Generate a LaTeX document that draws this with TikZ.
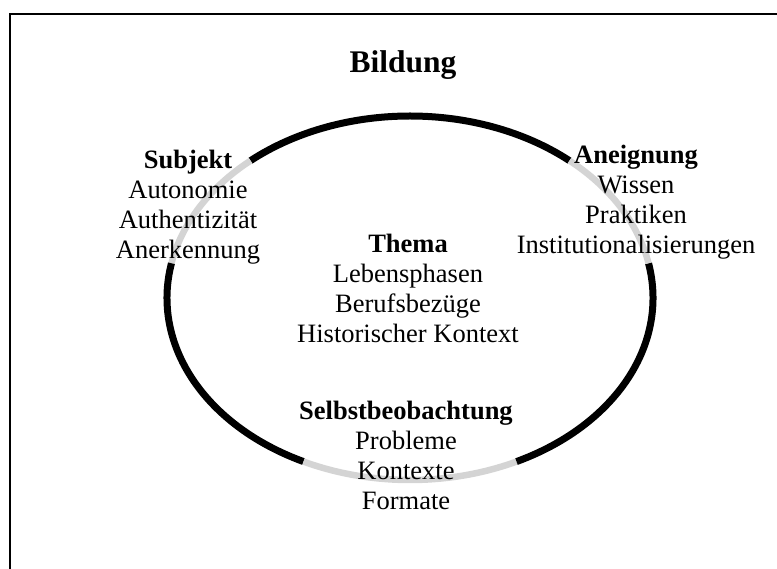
\documentclass[tikz,border=0pt]{standalone}
\usepackage{fontspec}
\setmainfont{Liberation Serif}
\usepackage{tikz}
\usetikzlibrary{calc}
\definecolor{bgrau}{HTML}{D4D4D4}
\tikzset{
  rahmen/.style={black, line width=2.2pt},
  bogen/.style={black, line width=7pt},
  luecke/.style={bgrau, line width=6.5pt},
  titel/.style={font=\fontsize{31.5}{36}\selectfont\bfseries, inner sep=0pt},
  block/.style={align=center, inner sep=0pt, anchor=north,
                font=\fontsize{26.5}{30}\selectfont},
}

\begin{document}
\begin{tikzpicture}[x=1pt, y=1pt]
  \useasboundingbox (0,0) rectangle (777,569);

  % Rahmen
  \draw[rahmen] (10,0) -- (10,555) -- (777,555);

  % Ellipse
  \coordinate (E) at (410,271);
  \draw[bogen]  ($(E)+(49:243 and 182)$)  arc[start angle=49,  end angle=131, x radius=243, y radius=182];
  \draw[luecke] ($(E)+(131:243 and 182)$) arc[start angle=131, end angle=169, x radius=243, y radius=182];
  \draw[bogen]  ($(E)+(169:243 and 182)$) arc[start angle=169, end angle=244, x radius=243, y radius=182];
  \draw[luecke] ($(E)+(244:243 and 182)$) arc[start angle=244, end angle=296, x radius=243, y radius=182];
  \draw[bogen]  ($(E)+(296:243 and 182)$) arc[start angle=296, end angle=371, x radius=243, y radius=182];
  \draw[luecke] ($(E)+(11:243 and 182)$)  arc[start angle=11,  end angle=49,  x radius=243, y radius=182];

  % Texte
  \node[titel, anchor=base] (bildung) at (403,496) {Bildung};
  \node[block] (subjekt) at (188,419)
    {\textbf{Subjekt}\\Autonomie\\Authentizität\\Anerkennung};
  \node[block] (aneignung) at (636,424)
    {\textbf{Aneignung}\\Wissen\\Praktiken\\Institutionalisierungen};
  \node[block] (thema) at (408,335)
    {\textbf{Thema}\\Lebensphasen\\Berufsbezüge\\Historischer Kontext};
  \node[block] (selbst) at (406,168)
    {\textbf{Selbstbeobachtung}\\Probleme\\Kontexte\\Formate};

\end{tikzpicture}
\end{document}
